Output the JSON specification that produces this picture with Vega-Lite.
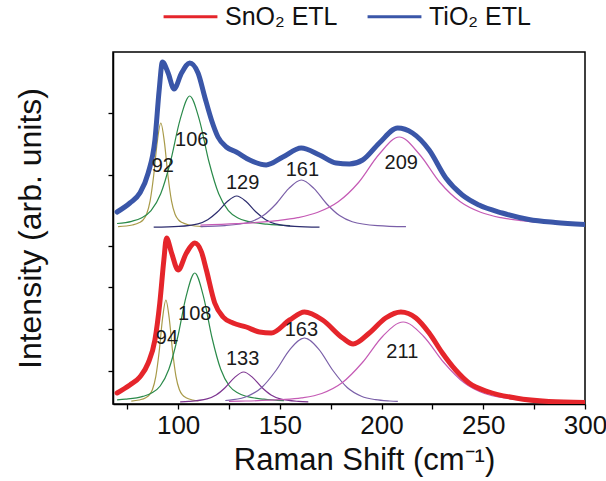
{
  "$schema": "https://vega.github.io/schema/vega-lite/v6.json",
  "width": 472,
  "height": 352,
  "autosize": {"type": "none"},
  "padding": {"left": 113, "top": 52, "right": 21, "bottom": 77},
  "background": "white",
  "config": {
    "font": "Liberation Sans",
    "view": {"stroke": "black", "strokeWidth": 1.5},
    "axis": {"grid": false, "domainColor": "black", "domainWidth": 1.5, "tickColor": "black", "tickWidth": 1.3, "labelColor": "#111", "titleColor": "#111", "titleFontWeight": "normal"}
  },
  "datasets": {
    "totals": [
      {"s": "TiO₂ ETL", "x": 70, "y": 192}, {"s": "TiO₂ ETL", "x": 76.3, "y": 201}, {"s": "TiO₂ ETL", "x": 81.2, "y": 211}, {"s": "TiO₂ ETL", "x": 85.3, "y": 231}, {"s": "TiO₂ ETL", "x": 88.6, "y": 264}, {"s": "TiO₂ ETL", "x": 90.7, "y": 314}, {"s": "TiO₂ ETL", "x": 92.3, "y": 342}, {"s": "TiO₂ ETL", "x": 95.1, "y": 331}, {"s": "TiO₂ ETL", "x": 98, "y": 315}, {"s": "TiO₂ ETL", "x": 101.7, "y": 331}, {"s": "TiO₂ ETL", "x": 105.7, "y": 341}, {"s": "TiO₂ ETL", "x": 109.8, "y": 331}, {"s": "TiO₂ ETL", "x": 113.1, "y": 307}, {"s": "TiO₂ ETL", "x": 116.4, "y": 284}, {"s": "TiO₂ ETL", "x": 119.6, "y": 267}, {"s": "TiO₂ ETL", "x": 123.7, "y": 257}, {"s": "TiO₂ ETL", "x": 128.6, "y": 252}, {"s": "TiO₂ ETL", "x": 135.2, "y": 244}, {"s": "TiO₂ ETL", "x": 143.3, "y": 239}, {"s": "TiO₂ ETL", "x": 151.5, "y": 247}, {"s": "TiO₂ ETL", "x": 160.5, "y": 256}, {"s": "TiO₂ ETL", "x": 169.5, "y": 249}, {"s": "TiO₂ ETL", "x": 177.7, "y": 241}, {"s": "TiO₂ ETL", "x": 184.2, "y": 240}, {"s": "TiO₂ ETL", "x": 190.7, "y": 244}, {"s": "TiO₂ ETL", "x": 198.9, "y": 261}, {"s": "TiO₂ ETL", "x": 207.9, "y": 276}, {"s": "TiO₂ ETL", "x": 215.2, "y": 271}, {"s": "TiO₂ ETL", "x": 223.4, "y": 254}, {"s": "TiO₂ ETL", "x": 231.6, "y": 226}, {"s": "TiO₂ ETL", "x": 239.7, "y": 209}, {"s": "TiO₂ ETL", "x": 247.9, "y": 199}, {"s": "TiO₂ ETL", "x": 259.3, "y": 191}, {"s": "TiO₂ ETL", "x": 272.4, "y": 184.5}, {"s": "TiO₂ ETL", "x": 285.4, "y": 181.5}, {"s": "TiO₂ ETL", "x": 300, "y": 179.5},
      {"s": "SnO₂ ETL", "x": 70, "y": 11}, {"s": "SnO₂ ETL", "x": 76.3, "y": 19}, {"s": "SnO₂ ETL", "x": 81.2, "y": 27}, {"s": "SnO₂ ETL", "x": 85.3, "y": 41}, {"s": "SnO₂ ETL", "x": 88.6, "y": 64}, {"s": "SnO₂ ETL", "x": 91, "y": 101}, {"s": "SnO₂ ETL", "x": 93, "y": 144}, {"s": "SnO₂ ETL", "x": 94.3, "y": 166}, {"s": "SnO₂ ETL", "x": 96.8, "y": 151}, {"s": "SnO₂ ETL", "x": 100, "y": 134}, {"s": "SnO₂ ETL", "x": 104.1, "y": 151}, {"s": "SnO₂ ETL", "x": 108.2, "y": 161}, {"s": "SnO₂ ETL", "x": 111.5, "y": 152}, {"s": "SnO₂ ETL", "x": 113.9, "y": 134}, {"s": "SnO₂ ETL", "x": 118, "y": 101}, {"s": "SnO₂ ETL", "x": 122.1, "y": 87}, {"s": "SnO₂ ETL", "x": 127, "y": 81}, {"s": "SnO₂ ETL", "x": 133.5, "y": 77}, {"s": "SnO₂ ETL", "x": 140, "y": 72}, {"s": "SnO₂ ETL", "x": 145.8, "y": 71}, {"s": "SnO₂ ETL", "x": 154.8, "y": 84}, {"s": "SnO₂ ETL", "x": 162.1, "y": 92}, {"s": "SnO₂ ETL", "x": 171, "y": 84}, {"s": "SnO₂ ETL", "x": 180.9, "y": 66}, {"s": "SnO₂ ETL", "x": 186, "y": 60}, {"s": "SnO₂ ETL", "x": 194, "y": 71}, {"s": "SnO₂ ETL", "x": 202, "y": 86}, {"s": "SnO₂ ETL", "x": 209.5, "y": 92}, {"s": "SnO₂ ETL", "x": 216.9, "y": 86}, {"s": "SnO₂ ETL", "x": 223.4, "y": 71}, {"s": "SnO₂ ETL", "x": 229.9, "y": 51}, {"s": "SnO₂ ETL", "x": 236.4, "y": 34}, {"s": "SnO₂ ETL", "x": 243, "y": 21}, {"s": "SnO₂ ETL", "x": 252.8, "y": 12}, {"s": "SnO₂ ETL", "x": 265.9, "y": 6}, {"s": "SnO₂ ETL", "x": 282.2, "y": 2.5}, {"s": "SnO₂ ETL", "x": 300, "y": 1.5}
    ],
    "comps": [
      {"p": "t92", "x": 70.5, "y": 177.4}, {"p": "t92", "x": 77.5, "y": 179}, {"p": "t92", "x": 81, "y": 181.4}, {"p": "t92", "x": 82.75, "y": 184}, {"p": "t92", "x": 84.5, "y": 189.8}, {"p": "t92", "x": 86.25, "y": 203.2}, {"p": "t92", "x": 88, "y": 228.5}, {"p": "t92", "x": 89.75, "y": 262.1}, {"p": "t92", "x": 91.5, "y": 281}, {"p": "t92", "x": 93.25, "y": 262.1}, {"p": "t92", "x": 95, "y": 228.5}, {"p": "t92", "x": 96.75, "y": 203.2}, {"p": "t92", "x": 98.5, "y": 189.8}, {"p": "t92", "x": 100.25, "y": 184}, {"p": "t92", "x": 102, "y": 181.4}, {"p": "t92", "x": 105.5, "y": 179}, {"p": "t92", "x": 112, "y": 177.4},
      {"p": "t106", "x": 70, "y": 180.5}, {"p": "t106", "x": 77.2, "y": 182.7}, {"p": "t106", "x": 81.95, "y": 186}, {"p": "t106", "x": 86.7, "y": 193.3}, {"p": "t106", "x": 91.45, "y": 210.2}, {"p": "t106", "x": 96.2, "y": 242}, {"p": "t106", "x": 100.95, "y": 284.2}, {"p": "t106", "x": 105.7, "y": 308}, {"p": "t106", "x": 110.45, "y": 284.2}, {"p": "t106", "x": 115.2, "y": 242}, {"p": "t106", "x": 119.95, "y": 210.2}, {"p": "t106", "x": 124.7, "y": 193.3}, {"p": "t106", "x": 129.45, "y": 186}, {"p": "t106", "x": 134.2, "y": 182.7}, {"p": "t106", "x": 143.7, "y": 179.8}, {"p": "t106", "x": 155, "y": 178.3},
      {"p": "t129", "x": 88, "y": 176.8}, {"p": "t129", "x": 100.3, "y": 177.6}, {"p": "t129", "x": 109.8, "y": 180.2}, {"p": "t129", "x": 114.55, "y": 184.3}, {"p": "t129", "x": 119.3, "y": 192}, {"p": "t129", "x": 124.05, "y": 202.2}, {"p": "t129", "x": 128.8, "y": 208}, {"p": "t129", "x": 133.55, "y": 202.2}, {"p": "t129", "x": 138.3, "y": 192}, {"p": "t129", "x": 143.05, "y": 184.3}, {"p": "t129", "x": 147.8, "y": 180.2}, {"p": "t129", "x": 157.3, "y": 177.6}, {"p": "t129", "x": 169.5, "y": 176.8},
      {"p": "t161", "x": 111, "y": 177.4}, {"p": "t161", "x": 123.1, "y": 178.4}, {"p": "t161", "x": 135.6, "y": 182.3}, {"p": "t161", "x": 141.85, "y": 188.4}, {"p": "t161", "x": 148.1, "y": 200}, {"p": "t161", "x": 154.35, "y": 215.4}, {"p": "t161", "x": 160.6, "y": 224}, {"p": "t161", "x": 166.85, "y": 215.4}, {"p": "t161", "x": 173.1, "y": 200}, {"p": "t161", "x": 179.35, "y": 188.4}, {"p": "t161", "x": 185.6, "y": 182.3}, {"p": "t161", "x": 198.1, "y": 178.4}, {"p": "t161", "x": 212, "y": 177.3},
      {"p": "t209", "x": 111, "y": 178.9}, {"p": "t209", "x": 128.7, "y": 180.3}, {"p": "t209", "x": 148.7, "y": 183.3}, {"p": "t209", "x": 158.7, "y": 186.3}, {"p": "t209", "x": 168.7, "y": 191.7}, {"p": "t209", "x": 178.7, "y": 202.2}, {"p": "t209", "x": 188.7, "y": 221.5}, {"p": "t209", "x": 198.7, "y": 249.5}, {"p": "t209", "x": 208.7, "y": 267}, {"p": "t209", "x": 218.7, "y": 249.5}, {"p": "t209", "x": 228.7, "y": 221.5}, {"p": "t209", "x": 238.7, "y": 202.2}, {"p": "t209", "x": 248.7, "y": 191.7}, {"p": "t209", "x": 258.7, "y": 186.3}, {"p": "t209", "x": 268.7, "y": 183.3}, {"p": "t209", "x": 288.7, "y": 180.3}, {"p": "t209", "x": 300, "y": 179.3},
      {"p": "b94", "x": 77, "y": 2.9}, {"p": "b94", "x": 80.8, "y": 4}, {"p": "b94", "x": 84.1, "y": 6.3}, {"p": "b94", "x": 85.75, "y": 8.8}, {"p": "b94", "x": 87.4, "y": 14.5}, {"p": "b94", "x": 89.05, "y": 27.7}, {"p": "b94", "x": 90.7, "y": 52.5}, {"p": "b94", "x": 92.35, "y": 85.5}, {"p": "b94", "x": 94, "y": 104}, {"p": "b94", "x": 95.65, "y": 85.5}, {"p": "b94", "x": 97.3, "y": 52.5}, {"p": "b94", "x": 98.95, "y": 27.7}, {"p": "b94", "x": 100.6, "y": 14.5}, {"p": "b94", "x": 102.25, "y": 8.8}, {"p": "b94", "x": 103.9, "y": 6.3}, {"p": "b94", "x": 107.2, "y": 4}, {"p": "b94", "x": 110, "y": 3},
      {"p": "b108", "x": 70, "y": 4.1}, {"p": "b108", "x": 74.2, "y": 4.8}, {"p": "b108", "x": 82.7, "y": 7.6}, {"p": "b108", "x": 86.95, "y": 10.9}, {"p": "b108", "x": 91.2, "y": 18}, {"p": "b108", "x": 95.45, "y": 34.7}, {"p": "b108", "x": 99.7, "y": 66}, {"p": "b108", "x": 103.95, "y": 107.6}, {"p": "b108", "x": 108.2, "y": 131}, {"p": "b108", "x": 112.45, "y": 107.6}, {"p": "b108", "x": 116.7, "y": 66}, {"p": "b108", "x": 120.95, "y": 34.7}, {"p": "b108", "x": 125.2, "y": 18}, {"p": "b108", "x": 129.45, "y": 10.9}, {"p": "b108", "x": 133.7, "y": 7.6}, {"p": "b108", "x": 142.2, "y": 4.8}, {"p": "b108", "x": 152, "y": 3.3},
      {"p": "b133", "x": 101, "y": 2.2}, {"p": "b133", "x": 105.2, "y": 2.6}, {"p": "b133", "x": 114.2, "y": 5.1}, {"p": "b133", "x": 118.7, "y": 9}, {"p": "b133", "x": 123.2, "y": 16.5}, {"p": "b133", "x": 127.7, "y": 26.4}, {"p": "b133", "x": 132.2, "y": 32}, {"p": "b133", "x": 136.7, "y": 26.4}, {"p": "b133", "x": 141.2, "y": 16.5}, {"p": "b133", "x": 145.7, "y": 9}, {"p": "b133", "x": 150.2, "y": 5.1}, {"p": "b133", "x": 159.2, "y": 2.6}, {"p": "b133", "x": 164, "y": 2.1},
      {"p": "b163", "x": 123.2, "y": 3.5}, {"p": "b163", "x": 127.1, "y": 4.3}, {"p": "b163", "x": 134.1, "y": 7.8}, {"p": "b163", "x": 141.1, "y": 16.5}, {"p": "b163", "x": 148.1, "y": 33.5}, {"p": "b163", "x": 155.1, "y": 54.9}, {"p": "b163", "x": 162.1, "y": 66}, {"p": "b163", "x": 169.1, "y": 54.9}, {"p": "b163", "x": 176.1, "y": 33.5}, {"p": "b163", "x": 183.1, "y": 16.5}, {"p": "b163", "x": 190.1, "y": 7.8}, {"p": "b163", "x": 197.1, "y": 4.3}, {"p": "b163", "x": 204.1, "y": 3}, {"p": "b163", "x": 208, "y": 2.6},
      {"p": "b211", "x": 125, "y": 2.7}, {"p": "b211", "x": 130.6, "y": 2.9}, {"p": "b211", "x": 150.6, "y": 4.3}, {"p": "b211", "x": 160.6, "y": 6.1}, {"p": "b211", "x": 170.6, "y": 10.5}, {"p": "b211", "x": 180.6, "y": 21.2}, {"p": "b211", "x": 190.6, "y": 41.5}, {"p": "b211", "x": 200.6, "y": 67.8}, {"p": "b211", "x": 210.6, "y": 82}, {"p": "b211", "x": 220.6, "y": 67.8}, {"p": "b211", "x": 230.6, "y": 41.5}, {"p": "b211", "x": 240.6, "y": 21.2}, {"p": "b211", "x": 250.6, "y": 10.5}, {"p": "b211", "x": 260.6, "y": 6.1}, {"p": "b211", "x": 270.6, "y": 4.3}, {"p": "b211", "x": 290.6, "y": 2.9}, {"p": "b211", "x": 300, "y": 2.5}
    ],
    "labels": [
      {"t": "92", "x": 92.5, "y": 238}, {"t": "106", "x": 106.7, "y": 264}, {"t": "129", "x": 131.7, "y": 221}, {"t": "161", "x": 161.1, "y": 234}, {"t": "209", "x": 209.7, "y": 241},
      {"t": "94", "x": 94.5, "y": 66}, {"t": "108", "x": 108.2, "y": 90}, {"t": "133", "x": 131.7, "y": 45}, {"t": "163", "x": 160.6, "y": 74}, {"t": "211", "x": 210.2, "y": 52}
    ]
  },
  "encoding": {
    "x": {"field": "x", "type": "quantitative", "scale": {"domain": [68, 300], "nice": false, "zero": false},
      "axis": {"title": "Raman Shift (cm⁻¹)", "values": [75, 100, 125, 150, 175, 200, 225, 250, 275, 300], "labelExpr": "datum.value % 50 === 0 ? datum.label : ''", "labelFlush": false, "labelOverlap": false, "tickSize": 5, "labelFontSize": 26, "labelPadding": 3, "titleFontSize": 31, "titlePadding": 7, "titleX": 251, "titleAlign": "center", "titleAnchor": "start"}},
    "y": {"field": "y", "type": "quantitative", "scale": {"domain": [0, 352], "nice": false, "zero": false},
      "axis": {"title": "Intensity (arb. units)", "values": [33, 75, 117, 158, 229, 291], "labels": false, "tickSize": 5, "titleFontSize": 32, "titlePadding": 60}}
  },
  "layer": [
    {
      "data": {"name": "comps"},
      "mark": {"type": "line", "strokeWidth": 1.2, "interpolate": "monotone", "clip": true},
      "encoding": {
        "detail": {"field": "p"},
        "color": {"field": "p", "type": "nominal", "legend": null,
          "scale": {"domain": ["t92", "t106", "t129", "t161", "t209", "b94", "b108", "b133", "b163", "b211"],
            "range": ["#a89a48", "#2a8a4a", "#2c2c6e", "#7a5fa8", "#c55bb5", "#a89a48", "#2a8a4a", "#7d3590", "#7a5fa8", "#c55bb5"]}}
      }
    },
    {
      "data": {"name": "totals"},
      "mark": {"type": "line", "strokeWidth": 5, "interpolate": "monotone", "strokeCap": "round", "strokeJoin": "round", "clip": true},
      "encoding": {
        "color": {"field": "s", "type": "nominal",
          "scale": {"domain": ["SnO₂ ETL", "TiO₂ ETL"], "range": ["#e5252b", "#3a56a8"]},
          "legend": {"title": null, "orient": "none", "legendX": 49, "legendY": -64, "direction": "horizontal", "symbolType": "stroke", "symbolSize": 2900, "symbolStrokeWidth": 3, "labelFontSize": 25, "labelColor": "#111", "columnPadding": 23, "labelOffset": 6, "labelLimit": 300}}
      }
    },
    {
      "data": {"name": "labels"},
      "mark": {"type": "text", "fontSize": 20, "color": "#1a1a1a", "align": "center", "baseline": "middle"},
      "encoding": {"text": {"field": "t"}}
    }
  ],
  "resolve": {"scale": {"color": "independent"}, "legend": {"color": "independent"}}
}
